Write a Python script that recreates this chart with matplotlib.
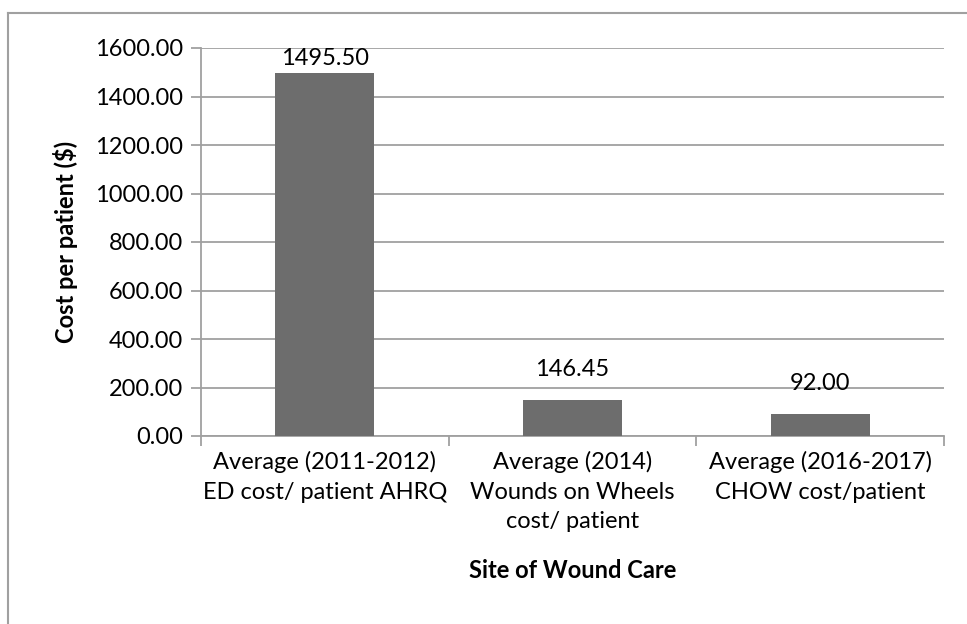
import matplotlib
matplotlib.use("Agg")
import matplotlib.pyplot as plt
from matplotlib.lines import Line2D
from matplotlib.ticker import MultipleLocator, FuncFormatter

categories = ["Average (2011-2012)\nED cost/ patient AHRQ",
              "Average (2014)\nWounds on Wheels\ncost/ patient",
              "Average (2016-2017)\nCHOW cost/patient"]
values = [1495.50, 146.45, 92.00]
value_labels = ["1495.50", "146.45", "92.00"]

plt.rcParams['font.family'] = ['Lato', 'DejaVu Sans']
W, H = 967, 624
fig = plt.figure(figsize=(W/100, H/100), dpi=100)
ax = fig.add_axes([201/W, 1-436/H, (944-201)/W, (436-48)/H])

grey = '#a0a0a0'
fs = 17
ymax = 1600
x = list(range(len(categories)))
ax.bar(x, values, width=0.4, color='#6d6d6d', zorder=3)
ax.set_xlim(-0.5, 2.5)
ax.set_ylim(0, ymax)

# data labels: placed above bars, clamped inside the plot area (like Excel)
px_per_unit = (436 - 48) / ymax
gap_px = 20
label_h_px = 20
for xi, v, lab in zip(x, values, value_labels):
    top_px = v * px_per_unit + gap_px + label_h_px
    if top_px > (436 - 48):
        ax.text(xi, ymax, lab, ha='center', va='top', fontsize=fs, color='black', zorder=4)
    else:
        ax.annotate(lab, (xi, v), xytext=(0, gap_px * 0.72), textcoords='offset points',
                    ha='center', va='bottom', fontsize=fs, color='black')

ax.yaxis.set_major_locator(MultipleLocator(200))
ax.yaxis.set_major_formatter(FuncFormatter(lambda v, p: f"{v:.2f}"))
ax.grid(axis='y', color=grey, linewidth=1.3, zorder=0)
for s in ['top', 'right']:
    ax.spines[s].set_visible(False)
ax.spines['left'].set_color(grey)
ax.spines['bottom'].set_color(grey)
ax.spines['left'].set_linewidth(1.3)
ax.spines['bottom'].set_linewidth(1.3)

ax.set_xticks([-0.5, 0.5, 1.5, 2.5])
ax.set_xticklabels([])
ax.set_xticks(x, minor=True)
ax.set_xticklabels(categories, minor=True, fontsize=fs, linespacing=1.48)
ax.tick_params(axis='x', which='minor', length=0, pad=11)
ax.tick_params(axis='x', which='major', length=7, color=grey, width=1.3)
ax.tick_params(axis='y', length=7, color=grey, width=1.3, labelsize=fs, pad=6)

ax.set_xlabel("Site of Wound Care", fontsize=fs, fontweight='bold', labelpad=20)
ax.set_ylabel("Cost per patient ($)", fontsize=fs, fontweight='bold', labelpad=12)

# outer chart frame (partially visible)
fig.add_artist(Line2D([8/W, 8/W], [0, 1-13/H], transform=fig.transFigure, color=grey, linewidth=1.5))
fig.add_artist(Line2D([8/W, 1], [1-13/H, 1-13/H], transform=fig.transFigure, color=grey, linewidth=1.5))

fig.savefig("out.png", dpi=100)
